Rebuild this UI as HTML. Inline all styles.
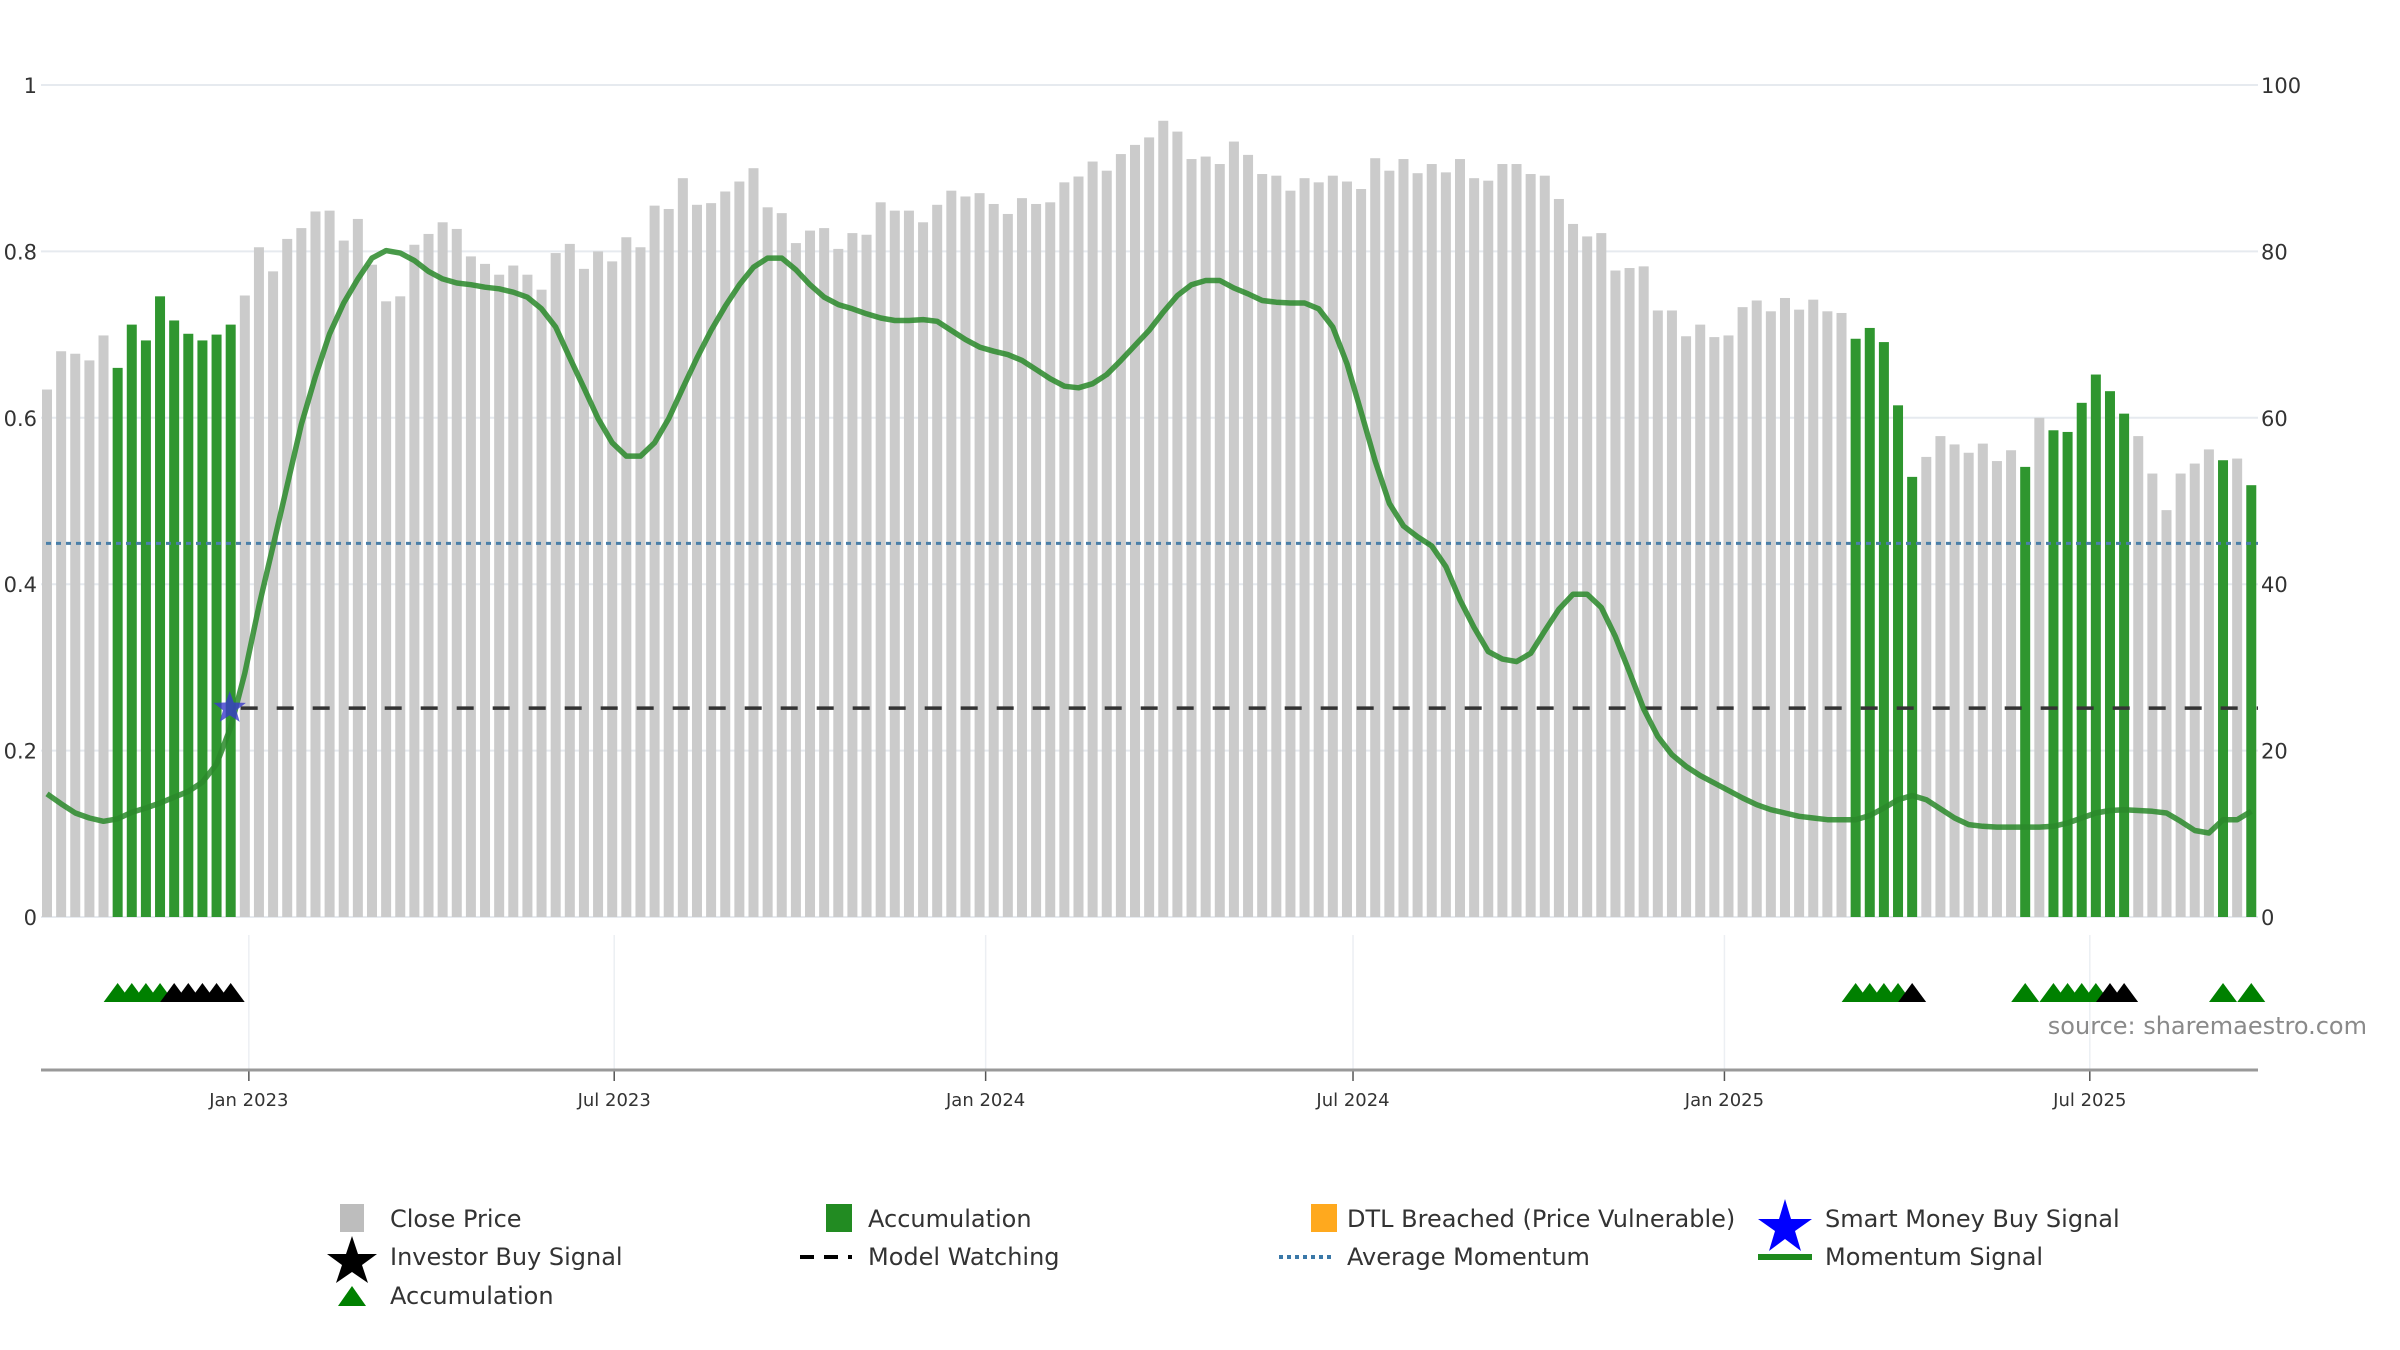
<!DOCTYPE html>
<html><head><meta charset="utf-8">
<style>
html,body{margin:0;padding:0;background:#fff;}
svg{display:block;font-family:"DejaVu Sans","Liberation Sans",sans-serif;}
</style></head>
<body>
<svg id="chart" width="2400" height="1350" viewBox="0 0 2400 1350" xmlns="http://www.w3.org/2000/svg">
  <g id="grid"></g>
  <g id="bars"></g>
  <g id="lines"></g>
  <g id="axes"></g>
  <g id="signals"></g>
  <text x="2367" y="1034" text-anchor="end" font-size="24" fill="#8a8a8a">source: sharemaestro.com</text>
  <g id="legend" font-size="24" fill="#333">
    <rect x="340" y="1204" width="24" height="28" fill="#bdbdbd"/>
    <text x="390" y="1227">Close Price</text>
    <polygon points="352,1236 358,1254 377,1254 362,1265 368,1283 352,1272 336,1283 342,1265 327,1254 346,1254" fill="#000"/>
    <text x="390" y="1265">Investor Buy Signal</text>
    <polygon points="352,1286 366,1306 338,1306" fill="#008000"/>
    <text x="390" y="1304">Accumulation</text>

    <rect x="826" y="1204" width="26" height="28" fill="#228b22"/>
    <text x="868" y="1227">Accumulation</text>
    <line x1="800" y1="1257" x2="852" y2="1257" stroke="#000" stroke-width="4" stroke-dasharray="14,10"/>
    <text x="868" y="1265">Model Watching</text>

    <rect x="1311" y="1204" width="26" height="28" fill="#ffa91e"/>
    <text x="1347" y="1227">DTL Breached (Price Vulnerable)</text>
    <line x1="1279" y1="1257" x2="1333" y2="1257" stroke="#3a78a8" stroke-width="4" stroke-dasharray="4,4"/>
    <text x="1347" y="1265">Average Momentum</text>

    <polygon points="1785,1199 1791,1219 1812,1219 1795,1231 1801,1251 1785,1239 1769,1251 1775,1231 1758,1219 1779,1219" fill="#0000ff"/>
    <text x="1825" y="1227">Smart Money Buy Signal</text>
    <line x1="1758" y1="1257" x2="1812" y2="1257" stroke="#1e8a1e" stroke-width="6"/>
    <text x="1825" y="1265">Momentum Signal</text>
  </g>
</svg>
<script>
const prices = [0.634,0.680,0.677,0.669,0.699,0.660,0.712,0.693,0.746,0.717,0.701,0.693,0.700,0.712,0.747,0.805,0.776,0.815,0.828,0.848,0.849,0.813,0.839,0.784,0.740,0.746,0.808,0.821,0.835,0.827,0.794,0.785,0.772,0.783,0.772,0.754,0.798,0.809,0.779,0.800,0.788,0.817,0.805,0.855,0.851,0.888,0.856,0.858,0.872,0.884,0.900,0.853,0.846,0.810,0.825,0.828,0.803,0.822,0.820,0.859,0.849,0.849,0.835,0.856,0.873,0.866,0.870,0.857,0.845,0.864,0.857,0.859,0.883,0.890,0.908,0.897,0.917,0.928,0.937,0.957,0.944,0.911,0.914,0.905,0.932,0.916,0.893,0.891,0.873,0.888,0.883,0.891,0.884,0.875,0.912,0.897,0.911,0.894,0.905,0.895,0.911,0.888,0.885,0.905,0.905,0.893,0.891,0.863,0.833,0.818,0.822,0.777,0.780,0.782,0.729,0.729,0.698,0.712,0.697,0.699,0.733,0.741,0.728,0.744,0.730,0.742,0.728,0.726,0.695,0.708,0.691,0.615,0.529,0.553,0.578,0.568,0.558,0.569,0.548,0.561,0.541,0.600,0.585,0.583,0.618,0.652,0.632,0.605,0.578,0.533,0.489,0.533,0.545,0.562,0.549,0.551,0.519];
const accumulationBars = [5,6,7,8,9,10,11,12,13,128,129,130,131,132,140,142,143,144,145,146,147,154,156];
const momentum = [0.148,0.136,0.125,0.119,0.115,0.118,0.126,0.131,0.137,0.144,0.151,0.162,0.184,0.228,0.293,0.374,0.446,0.519,0.592,0.650,0.701,0.738,0.767,0.792,0.801,0.798,0.789,0.776,0.767,0.762,0.760,0.757,0.755,0.751,0.745,0.731,0.709,0.672,0.636,0.599,0.570,0.554,0.554,0.570,0.599,0.636,0.672,0.705,0.734,0.760,0.781,0.792,0.792,0.778,0.760,0.745,0.736,0.731,0.725,0.720,0.717,0.717,0.718,0.716,0.705,0.694,0.685,0.680,0.676,0.669,0.658,0.647,0.638,0.636,0.641,0.652,0.669,0.687,0.705,0.727,0.747,0.760,0.765,0.765,0.756,0.749,0.741,0.739,0.738,0.738,0.731,0.709,0.665,0.607,0.548,0.497,0.470,0.457,0.446,0.421,0.381,0.348,0.319,0.310,0.307,0.317,0.344,0.370,0.388,0.388,0.372,0.337,0.294,0.250,0.217,0.195,0.181,0.170,0.161,0.152,0.143,0.135,0.129,0.125,0.121,0.119,0.117,0.117,0.117,0.122,0.131,0.141,0.146,0.141,0.130,0.119,0.111,0.109,0.108,0.108,0.108,0.108,0.109,0.113,0.119,0.125,0.128,0.129,0.128,0.127,0.125,0.115,0.104,0.101,0.117,0.117,0.127];
const averageMomentum = [0.449];
const modelWatching = [0.251];
const smartMoneyIndex = [13];
const greenSignals = [5,6,7,8,128,129,130,131,140,142,143,144,145,154,156];
const blackSignals = [9,10,11,12,13,132,146,147];
const leftTicks = [0,0.2,0.4,0.6,0.8,1];
const leftTickLabels = ["0","0.2","0.4","0.6","0.8","1"];
const rightTicks = [0,20,40,60,80,100];
const dateTicks = ["2023-01-01","2023-07-01","2024-01-01","2024-07-01","2025-01-01","2025-07-01"];
const dateTickLabels = ["Jan 2023","Jul 2023","Jan 2024","Jul 2024","Jan 2025","Jul 2025"];

const NS="http://www.w3.org/2000/svg";
const START=Date.UTC(2022,8,23), WEEK=7*86400000;
const X0=47, STEP=14.13, Y0=917, Y1=85, PL=41, PR=2258;
function xi(i){return X0+i*STEP;}
function xd(s){const d=new Date(s+"T00:00:00Z").getTime();return X0+(d-START)/WEEK*STEP;}
function yv(v){return Y0-(Y0-Y1)*v;}
function yr(v){return Y0-(Y0-Y1)*v/100;}
function mk(tag,attrs,parent){const e=document.createElementNS(NS,tag);for(const k in attrs)e.setAttribute(k,attrs[k]);parent.appendChild(e);return e;}

const grid=document.getElementById('grid'), bars=document.getElementById('bars'), lines=document.getElementById('lines'), axes=document.getElementById('axes'), sig=document.getElementById('signals');

leftTicks.forEach((t,k)=>{
  const y=yv(t);
  const g=mk('line',{x1:PL,x2:PR,y1:y,y2:y,stroke:'#e6eaef','stroke-width':2},grid);
  
  
  const tx=mk('text',{x:37,y:y+8,'text-anchor':'end','font-size':21,fill:'#333'},axes);
  tx.textContent=leftTickLabels[k];
  
  
});
rightTicks.forEach(t=>{
  const y=yr(t);
  const tx=mk('text',{x:2261,y:y+8,'font-size':21,fill:'#333'},axes);
  tx.textContent=String(t);
  
  
});
dateTicks.forEach((d,k)=>{
  const x=xd(d);
  const g=mk('line',{x1:x,x2:x,y1:935,y2:1070,stroke:'#eceff3','stroke-width':1.5},grid);
  
  
  const t=mk('line',{x1:x,x2:x,y1:1070,y2:1081,stroke:'#555','stroke-width':1.5},axes);
  
  
  const tx=mk('text',{x:x,y:1106,'text-anchor':'middle','font-size':18,fill:'#333'},axes);
  tx.textContent=dateTickLabels[k];
  
  
});
const ax=mk('line',{x1:PL,x2:PR,y1:1070,y2:1070,stroke:'#999','stroke-width':3},axes);



prices.forEach((v,i)=>{
  const acc=accumulationBars.indexOf(i)>=0;
  const r=mk('rect',{x:xi(i)-5,y:yv(v),width:10,height:Y0-yv(v),fill:acc?'#2f962f':'#cbcbcb'},bars);
  
  
});

const am=mk('line',{x1:PL+5,x2:PR,y1:yv(averageMomentum[0]),y2:yv(averageMomentum[0]),stroke:'#4a7fa8','stroke-width':3,'stroke-dasharray':'5,5'},lines);


const mw=mk('line',{x1:xi(smartMoneyIndex[0])+10,x2:PR,y1:yv(modelWatching[0]),y2:yv(modelWatching[0]),stroke:'#333','stroke-width':3.5,'stroke-dasharray':'17,19'},lines);



let d='';
momentum.forEach((v,i)=>{d+=(i?'L':'M')+xi(i).toFixed(1)+','+yv(v).toFixed(1);});
const ml=mk('path',{d:d,fill:'none',stroke:'#2a8a2a','stroke-opacity':0.85,'stroke-width':5.5,'stroke-linejoin':'round'},lines);



function star(cx,cy,R,r){let p=[];for(let k=0;k<10;k++){const a=-Math.PI/2+k*Math.PI/5;const rr=k%2?r:R;p.push((cx+rr*Math.cos(a)).toFixed(1)+','+(cy+rr*Math.sin(a)).toFixed(1));}return p.join(' ');}
smartMoneyIndex.forEach(i=>{
  const s=mk('polygon',{points:star(xi(i)-1,yv(modelWatching[0]),17,7),fill:'#3a3acc','fill-opacity':0.8},lines);
  
  
});

function tri(i,color,name){
  const x=xi(i);
  const t=mk('polygon',{points:`${x},983 ${x+14},1002 ${x-14},1002`,fill:color},sig);
  
  
}
greenSignals.forEach(i=>tri(i,'#008000','accumulation-triangle'));
blackSignals.forEach(i=>tri(i,'#000000','investor-buy-triangle'));
</script>
</body></html>
